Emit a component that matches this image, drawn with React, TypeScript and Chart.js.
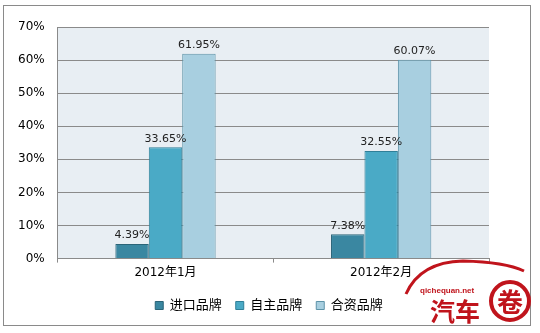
import React, { useEffect, useRef } from "react";
import { Chart, registerables } from "chart.js";

Chart.register(...registerables);

const categories = ["2012年1月", "2012年2月"];
const seriesNames = ["进口品牌", "自主品牌", "合资品牌"];
const importValues = [4.39, 7.38];
const domesticValues = [33.65, 32.55];
const jointValues = [61.95, 60.07];
const yTicks = [0, 10, 20, 30, 40, 50, 60, 70];

const fills = ["#3a87a1", "#4aaac6", "#a8cfe0"];
const borders = ["#2b6478", "#2f7f98", "#5d93a8"];

const FONT = "'DejaVu Sans', 'Noto Sans CJK SC', sans-serif";

export default function App() {
  const ref = useRef<HTMLCanvasElement>(null);
  useEffect(() => {
    if (!ref.current) return;
    const bgPlugin = {
      id: "bg",
      afterUpdate(chart: any) {
        const lg = chart.legend;
        if (lg) {
          lg.left += 22;
          lg.right += 22;
        }
      },
      beforeDraw(chart: any) {
        const { ctx, chartArea: a } = chart;
        ctx.save();
        ctx.fillStyle = "#ffffff";
        ctx.fillRect(0, 0, chart.width, chart.height);
        ctx.fillStyle = "#e8eef3";
        ctx.fillRect(a.left, a.top, a.right - a.left, a.bottom - a.top);
        ctx.strokeStyle = "#8a8a8a";
        ctx.lineWidth = 1;
        ctx.strokeRect(3.5, 5.5, 527, 320);
        ctx.restore();
      },
      afterDraw(chart: any) {
        const { ctx } = chart;
        ctx.save();
        ctx.font = `11px ${FONT}`;
        ctx.fillStyle = "#222";
        ctx.textAlign = "center";
        ctx.textBaseline = "bottom";
        chart.data.datasets.forEach((ds: any, i: number) => {
          const meta = chart.getDatasetMeta(i);
          meta.data.forEach((bar: any, j: number) => {
            ctx.fillText(ds.data[j].toFixed(2) + "%", bar.x, bar.y - 3);
          });
        });
        // watermark
        ctx.fillStyle = "#c0141c";
        ctx.strokeStyle = "#c0141c";
        ctx.beginPath();
        ctx.lineWidth = 3;
        ctx.moveTo(406, 294);
        ctx.quadraticCurveTo(420, 262, 463, 261);
        ctx.quadraticCurveTo(505, 262, 524, 271);
        ctx.stroke();
        ctx.font = `bold 8px 'Liberation Sans', sans-serif`;
        ctx.textAlign = "left";
        ctx.textBaseline = "alphabetic";
        ctx.fillText("qichequan.net", 420, 293);
        ctx.font = `bold 25px 'Noto Sans CJK SC', sans-serif`;
        ctx.fillText("汽车", 430, 321);
        ctx.fillStyle = "#fff";
        ctx.beginPath();
        ctx.arc(510, 301, 19, 0, Math.PI * 2);
        ctx.fill();
        ctx.lineWidth = 4;
        ctx.stroke();
        ctx.fillStyle = "#c0141c";
        ctx.font = `bold 26px 'Noto Sans CJK SC', sans-serif`;
        ctx.textAlign = "center";
        ctx.textBaseline = "middle";
        ctx.fillText("卷", 510, 302);
        ctx.restore();
      },
    };
    const chart = new Chart(ref.current, {
      type: "bar",
      data: {
        labels: categories,
        datasets: [importValues, domesticValues, jointValues].map((d, i) => ({
          label: seriesNames[i],
          data: d,
          backgroundColor: fills[i],
          borderColor: borders[i],
          borderWidth: 1,
          categoryPercentage: 0.465,
          barPercentage: 1,
        })),
      },
      options: {
        animation: false,
        responsive: false,
        layout: { padding: { left: 5, right: 51, top: 27, bottom: 11 } },
        plugins: {
          legend: {
            position: "bottom",
            labels: {
              boxWidth: 8,
              boxHeight: 8,
              padding: 14,
              color: "#000",
              font: { size: 13, family: FONT },
            },
          },
          tooltip: { enabled: false },
        },
        scales: {
          x: {
            afterFit(axis: any) {
              axis.height += 2;
            },
            grid: {
              display: true,
              drawOnChartArea: false,
              drawTicks: true,
              tickLength: 4,
              color: "#8a8a8a",
              offset: true,
            },
            border: { color: "#8a8a8a" },
            ticks: { color: "#000", font: { size: 12, family: FONT }, padding: 3 },
          },
          y: {
            min: 0,
            max: 70,
            afterBuildTicks(axis: any) {
              axis.ticks = yTicks.map((v) => ({ value: v }));
            },
            grid: { color: "#8a8a8a", drawTicks: false },
            border: { color: "#8a8a8a" },
            ticks: {
              color: "#000",
              padding: 13,
              font: { size: 12, family: FONT },
              callback: (v: any) => v + "%",
            },
          },
        },
      },
      plugins: [bgPlugin],
    });
    return () => chart.destroy();
  }, []);
  return (
    <div style={{ position: "fixed", left: 0, top: 0, width: 540, height: 333, background: "#fff" }}>
      <canvas ref={ref} width={540} height={333} style={{ display: "block" }} />
    </div>
  );
}
